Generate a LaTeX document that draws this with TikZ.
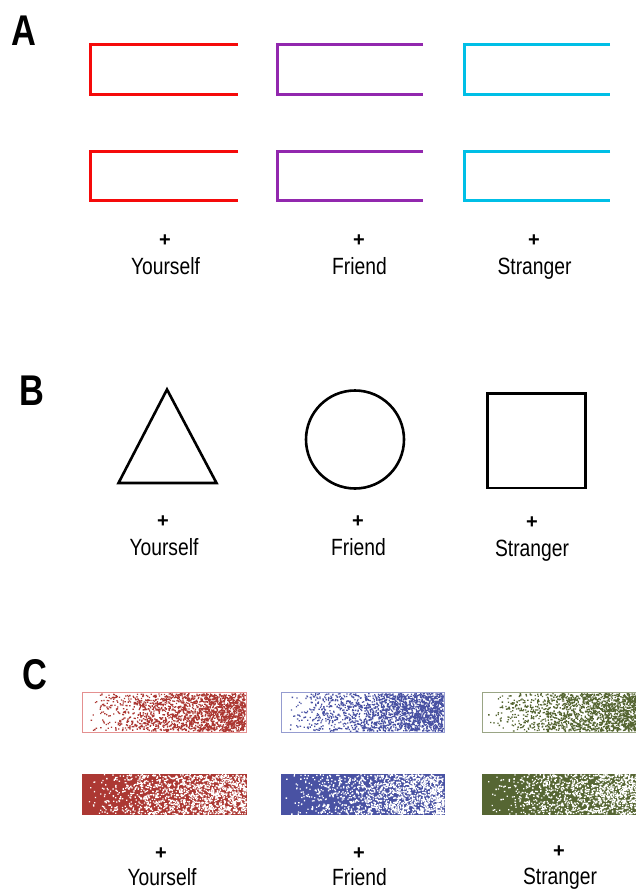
\documentclass[tikz,border=0pt]{standalone}
\usepackage{fontspec}
\newfontfamily\labfont[FakeStretch=0.82]{Liberation Sans}
\newfontfamily\plusfont{Liberation Sans}
\newfontfamily\panfont[FakeStretch=0.8]{Liberation Sans}
\definecolor{aRed}{HTML}{F50A0A}
\definecolor{aPur}{HTML}{9228AE}
\definecolor{aCya}{HTML}{00BFE6}
\definecolor{cRed}{HTML}{AC3833}
\definecolor{cBlu}{HTML}{4952A3}
\definecolor{cGrn}{HTML}{566633}
\definecolor{cRedL}{HTML}{E49090}
\definecolor{cBluL}{HTML}{959CD0}
\definecolor{cGrnL}{HTML}{9AA585}
\newcommand\dotsIn[6]{%
  \fill[#5] \foreach \i in {1,...,#6} {({#1+4+(#3-5.3)*sqrt(rnd)},{#2+(#4-1.3)*rnd}) rectangle ++(1.3,1.3)};}
\begin{document}
\begin{tikzpicture}[x=1pt,y=-1pt,
  lab/.style={inner sep=0pt,anchor=base,font=\labfont\fontsize{23.5}{28}\selectfont},
  plus/.style={inner sep=0pt,anchor=center,font=\plusfont\bfseries\fontsize{20}{24}\selectfont},
  panel/.style={inner sep=0pt,anchor=base west,font=\panfont\bfseries\fontsize{43}{50}\selectfont},
  bracket/.style={line width=3.2pt,line cap=butt,line join=miter},
  shapeline/.style={line width=2.6pt,line join=miter,black}]
\useasboundingbox (0,0) rectangle (636,890);
\pgfmathsetseed{4711}
% ---------- Panel A ----------
\node[panel] (pA) at (11,46) {A};
\foreach \yt/\yb/\r in {44.5/94.3/1,151.5/200.5/2}{
  \draw[bracket,aRed] (238,\yt) -- (90.5,\yt) -- (90.5,\yb) -- (238,\yb);
  \draw[bracket,aPur] (423,\yt) -- (277.5,\yt) -- (277.5,\yb) -- (423,\yb);
  \draw[bracket,aCya] (610,\yt) -- (464.5,\yt) -- (464.5,\yb) -- (610,\yb);
}
\node[plus] (aP1) at (165,241) {+};
\node[plus] (aP2) at (359,241) {+};
\node[plus] (aP3) at (534,241) {+};
\node[lab] (aL1) at (165.5,275) {Yourself};
\node[lab] (aL2) at (359.5,275) {Friend};
\node[lab] (aL3) at (534.5,275) {Stranger};
% ---------- Panel B ----------
\node[panel] (pB) at (19,405) {B};
\draw[shapeline] (167,389.5) -- (118.5,483) -- (216.5,483) -- cycle;
\draw[shapeline] (355,439.5) circle (49);
\draw[shapeline] (487.5,393.3) rectangle (585.7,488);
\node[plus] (bP1) at (163,522) {+};
\node[plus] (bP2) at (358,522) {+};
\node[plus] (bP3) at (532,523) {+};
\node[lab] (bL1) at (164,555) {Yourself};
\node[lab] (bL2) at (358.5,555) {Friend};
\node[lab] (bL3) at (532,556) {Stranger};
% ---------- Panel C ----------
\node[panel] (pC) at (22,689) {C};
\begin{scope}
\clip (0,0) rectangle (636,890);
% top row: white bars with coloured dots
\draw[cRedL,line width=1pt] (82.5,692.5) rectangle (246.5,732.5);
\draw[cBluL,line width=1pt] (281.5,692.5) rectangle (444.5,732.5);
\draw[cGrnL,line width=1pt] (482.5,692.5) rectangle (650,732.5);
\dotsIn{83}{693}{163}{39}{cRed}{1900}
\dotsIn{282}{693}{162}{39}{cBlu}{1900}
\dotsIn{483}{693}{165}{39}{cGrn}{1900}
% bottom row: coloured bars with white dots
\fill[cRed] (82,774) rectangle (247,815);
\fill[cBlu] (281,774) rectangle (445,815);
\fill[cGrn] (482,774) rectangle (650,815);
\dotsIn{82}{774}{165}{41}{white}{1500}
\dotsIn{281}{774}{164}{41}{white}{1500}
\dotsIn{482}{774}{168}{41}{white}{1500}
\end{scope}
\node[plus] (cP1) at (161,854) {+};
\node[plus] (cP2) at (359,854) {+};
\node[plus] (cP3) at (559,852) {+};
\node[lab] (cL1) at (162,885.5) {Yourself};
\node[lab] (cL2) at (359.5,885.5) {Friend};
\node[lab] (cL3) at (560,884) {Stranger};
\end{tikzpicture}
\end{document}
